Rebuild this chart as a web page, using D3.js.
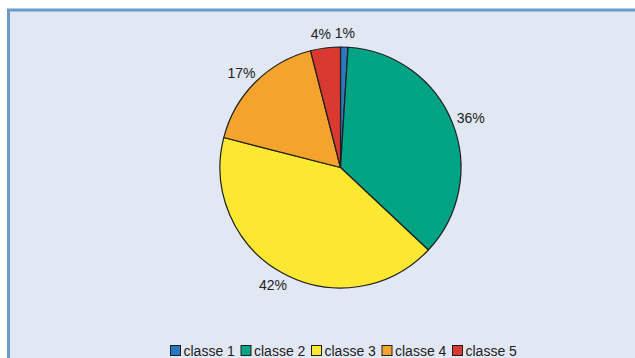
<!DOCTYPE html>
<html>
<head>
<meta charset="utf-8">
<script src="https://cdn.jsdelivr.net/npm/d3@7"></script>
<style>
html,body{margin:0;padding:0;background:#fff;}
svg{display:block;}
text{font-family:"Liberation Sans Narrow","Arial Narrow","Liberation Sans",Arial,sans-serif;fill:#222;}
</style>
</head>
<body>
<svg id="chart" width="635" height="358"></svg>
<script>
const categories = ["classe 1", "classe 2", "classe 3", "classe 4", "classe 5"];
const values = [1, 36, 42, 17, 4];
const labels = ["1%", "36%", "42%", "17%", "4%"];
const colors = ["#2a78c2", "#00a384", "#fde831", "#f4a42c", "#d9392e"];

const svg = d3.select("#chart");
const W = 635, H = 358;

// panel background + border
svg.append("rect").attr("x", 7).attr("y", 9).attr("width", W - 7).attr("height", H - 9)
  .attr("fill", "#e1e7f3");
svg.append("line").attr("x1", 7).attr("x2", W).attr("y1", 10).attr("y2", 10)
  .attr("stroke", "#6a9bca").attr("stroke-width", 3);
svg.append("line").attr("x1", 8.5).attr("x2", 8.5).attr("y1", 9).attr("y2", H)
  .attr("stroke", "#6a9bca").attr("stroke-width", 3);

const cx = 340.5, cy = 167.5, r = 120.5;
const data = categories.map((c, i) => ({ cat: c, value: values[i], label: labels[i], color: colors[i] }));

const pie = d3.pie().value(d => d.value).sort(null).startAngle(0).endAngle(2 * Math.PI);
const arcs = pie(data);
const arc = d3.arc().innerRadius(0).outerRadius(r);

const g = svg.append("g").attr("transform", `translate(${cx},${cy})`);
g.selectAll("path").data(arcs).join("path")
  .attr("d", arc)
  .attr("fill", d => d.data.color)
  .attr("stroke", "#1e1e1e")
  .attr("stroke-width", 1.2)
  .attr("stroke-linejoin", "round");

// labels on an ellipse outside the pie
const rx = 140, ry = 134;
const pos = arcs.map(a => {
  const m = (a.startAngle + a.endAngle) / 2;
  return { x: rx * Math.sin(m), y: -ry * Math.cos(m), a };
});
// simple collision relaxation for labels near the top
const wEst = t => t.length * 7.5;
for (let k = 0; k < 20; k++) {
  for (let i = 0; i < pos.length; i++) {
    for (let j = 0; j < pos.length; j++) {
      if (i === j) continue;
      const p = pos[i], q = pos[j];
      if (Math.abs(p.y - q.y) < 14 && p.x < q.x) {
        const need = (wEst(p.a.data.label) + wEst(q.a.data.label)) / 2 + 9;
        const gap = q.x - p.x;
        if (gap < need) { p.x -= (need - gap); }
      }
    }
  }
}
g.selectAll("text.lbl").data(pos).join("text")
  .attr("class", "lbl")
  .attr("x", d => d.x)
  .attr("y", d => d.y)
  .attr("dy", "0.35em")
  .attr("text-anchor", "middle")
  .attr("font-size", 14)
  .text(d => d.a.data.label);

// legend
const legX = d3.scalePoint().domain(categories).range([170.5, 452.5]);
const leg = svg.append("g");
const items = leg.selectAll("g").data(data).join("g")
  .attr("transform", d => `translate(${legX(d.cat)},345.5)`);
items.append("rect").attr("width", 10).attr("height", 10)
  .attr("fill", d => d.color).attr("stroke", "#1e1e1e").attr("stroke-width", 1);
items.append("text").attr("x", 13).attr("y", 5).attr("dy", "0.38em")
  .attr("font-size", 14).text(d => d.cat);
</script>
</body>
</html>
